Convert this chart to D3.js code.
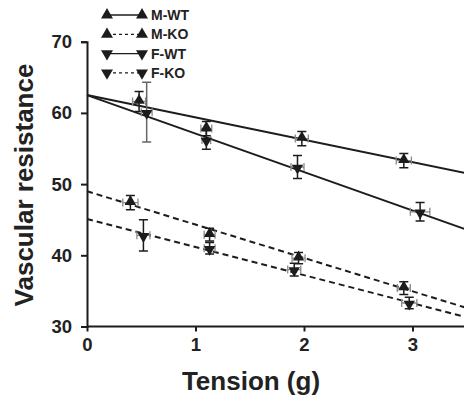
<!DOCTYPE html>
<html>
<head>
<meta charset="utf-8">
<script src="https://cdn.jsdelivr.net/npm/d3@7"></script>
<style>
  body { margin: 0; background: #fff; }
  #chart { width: 464px; height: 400px; }
  text { font-family: "Liberation Sans", Arial, sans-serif; font-weight: bold; fill: #222; }
</style>
</head>
<body>
<div id="chart"></div>
<script>
// series names, in legend order
const seriesNames = ["M-WT", "M-KO", "F-WT", "F-KO"];

// tension (g) for each point
const mwtX = [0.48, 1.10, 1.98, 2.92];
const mkoX = [0.40, 1.13, 1.95, 2.92];
const fwtX = [0.55, 1.10, 1.94, 3.07];
const fkoX = [0.52, 1.13, 1.91, 2.97];

// vascular resistance for each point
const mwtY = [61.6, 57.8, 56.4, 53.3];
const mkoY = [47.4, 42.9, 39.6, 35.4];
const fwtY = [60.1, 56.2, 52.4, 46.1];
const fkoY = [42.8, 41.0, 38.0, 33.3];

// vertical error (+/-)
const mwtEy = [1.4, 1.0, 1.0, 1.0];
const mkoEy = [1.0, 0.9, 0.8, 0.9];
const fwtEy = [4.2, 1.3, 1.6, 1.3];
const fkoEy = [2.2, 0.8, 0.9, 0.8];

// horizontal error (+/-)
const mwtEx = [0.06, 0.05, 0.06, 0.07];
const mkoEx = [0.07, 0.05, 0.06, 0.06];
const fwtEx = [0.05, 0.04, 0.06, 0.09];
const fkoEx = [0.06, 0.05, 0.06, 0.07];

// regression line values at tension 0 and 3.5
const fitStart = [62.5, 49.0, 62.5, 45.1];
const fitEnd = [51.5, 32.6, 43.6, 31.3];

const xTicks = [0, 1, 2, 3];
const yTicks = [30, 40, 50, 60, 70];

const width = 464, height = 400;

const svg = d3.select("#chart").append("svg")
    .attr("width", width)
    .attr("height", height);

const xScale = d3.scaleLinear().domain([0, 3.5]).range([87, 466.75]);
const yScale = d3.scaleLinear().domain([30, 70]).range([326.5, 41.7]);

const ink = "#1c1c1c";
const greyBar = "#8a8a8a";

const series = [
    {name: seriesNames[0], x: mwtX, y: mwtY, ex: mwtEx, ey: mwtEy, up: true, dash: null},
    {name: seriesNames[1], x: mkoX, y: mkoY, ex: mkoEx, ey: mkoEy, up: true, dash: "6,4"},
    {name: seriesNames[2], x: fwtX, y: fwtY, ex: fwtEx, ey: fwtEy, up: false, dash: null},
    {name: seriesNames[3], x: fkoX, y: fkoY, ex: fkoEx, ey: fkoEy, up: false, dash: "6,4"}
];

const tri = d3.symbol().type(d3.symbolTriangle).size(56);
const legendTri = d3.symbol().type(d3.symbolTriangle).size(62);

/* fit lines */
const plot = svg.append("g");
series.forEach(function(s, i) {
    plot.append("line")
        .attr("x1", xScale(0)).attr("y1", yScale(fitStart[i]))
        .attr("x2", xScale(3.5)).attr("y2", yScale(fitEnd[i]))
        .attr("stroke", ink)
        .attr("stroke-width", 2)
        .attr("stroke-dasharray", s.dash);
});

/* error bars and markers */
series.forEach(function(s) {
    const pts = s.x.map(function(x, j) {
        return {x: x, y: s.y[j], ex: s.ex[j], ey: s.ey[j]};
    });
    const g = plot.append("g");

    pts.forEach(function(d) {
        const cx = xScale(d.x), cy = yScale(d.y);
        const x0 = xScale(d.x - d.ex), x1 = xScale(d.x + d.ex);
        const y0 = yScale(d.y - d.ey), y1 = yScale(d.y + d.ey);

        // horizontal bar (grey)
        g.append("path")
            .attr("d", `M${x0},${cy}H${x1}M${x0},${cy - 4}V${cy + 4}M${x1},${cy - 4}V${cy + 4}`)
            .attr("stroke", greyBar).attr("stroke-width", 1.3).attr("fill", "none");
        // vertical bar
        g.append("path")
            .attr("d", `M${cx},${y0}V${y1}M${cx - 4.5},${y0}H${cx + 4.5}M${cx - 4.5},${y1}H${cx + 4.5}`)
            .attr("stroke", d.ey > 3 ? "#666" : ink).attr("stroke-width", 1.5).attr("fill", "none");
    });

    g.selectAll(".mark")
        .data(pts)
        .enter()
        .append("path")
            .attr("class", "mark")
            .attr("d", tri)
            .attr("fill", ink)
            .attr("transform", function(d) {
                return `translate(${xScale(d.x)},${yScale(d.y) + (s.up ? -1 : 1)}) rotate(${s.up ? 0 : 180})`;
            });
});

/* axes */
const xAxis = svg.append("g")
    .attr("transform", `translate(0,${yScale(30)})`)
    .call(d3.axisBottom(xScale).tickValues(xTicks).tickSize(5).tickPadding(6).tickFormat(d3.format("d")));

const yAxis = svg.append("g")
    .attr("transform", `translate(${xScale(0)},0)`)
    .call(d3.axisLeft(yScale).tickValues(yTicks).tickSize(6).tickPadding(9).tickFormat(d3.format("d")));

[xAxis, yAxis].forEach(function(ax) {
    ax.select(".domain").attr("stroke", ink).attr("stroke-width", 2);
    ax.selectAll(".tick line").attr("stroke", ink).attr("stroke-width", 2);
    ax.selectAll(".tick text")
        .attr("font-size", 18.5)
        .attr("font-family", "Liberation Sans, Arial, sans-serif")
        .attr("font-weight", "bold")
        .attr("fill", "#222");
});
xAxis.select(".domain").attr("d", `M${xScale(0)},0H${width + 5}`);

svg.append("text")
    .attr("x", 251)
    .attr("y", 390)
    .attr("text-anchor", "middle")
    .attr("font-size", 26)
    .text("Tension (g)");

svg.append("text")
    .attr("transform", "translate(33,185) rotate(-90)")
    .attr("text-anchor", "middle")
    .attr("font-size", 26)
    .text("Vascular resistance");

/* legend */
const legend = svg.append("g");
series.forEach(function(s, i) {
    const ly = 15 + i * 19.3;
    const row = legend.append("g");
    row.append("line")
        .attr("x1", 107).attr("x2", 142)
        .attr("y1", ly).attr("y2", ly)
        .attr("stroke", ink)
        .attr("stroke-width", 1.3)
        .attr("stroke-dasharray", s.dash ? "3,3" : null);
    [107, 142].forEach(function(mx) {
        row.append("path")
            .attr("d", legendTri)
            .attr("fill", ink)
            .attr("transform", `translate(${mx},${ly}) rotate(${s.up ? 0 : 180})`);
    });
    row.append("text")
        .attr("x", 151)
        .attr("y", ly)
        .attr("dy", "0.36em")
        .attr("font-size", 14)
        .text(s.name);
});
</script>
</body>
</html>
